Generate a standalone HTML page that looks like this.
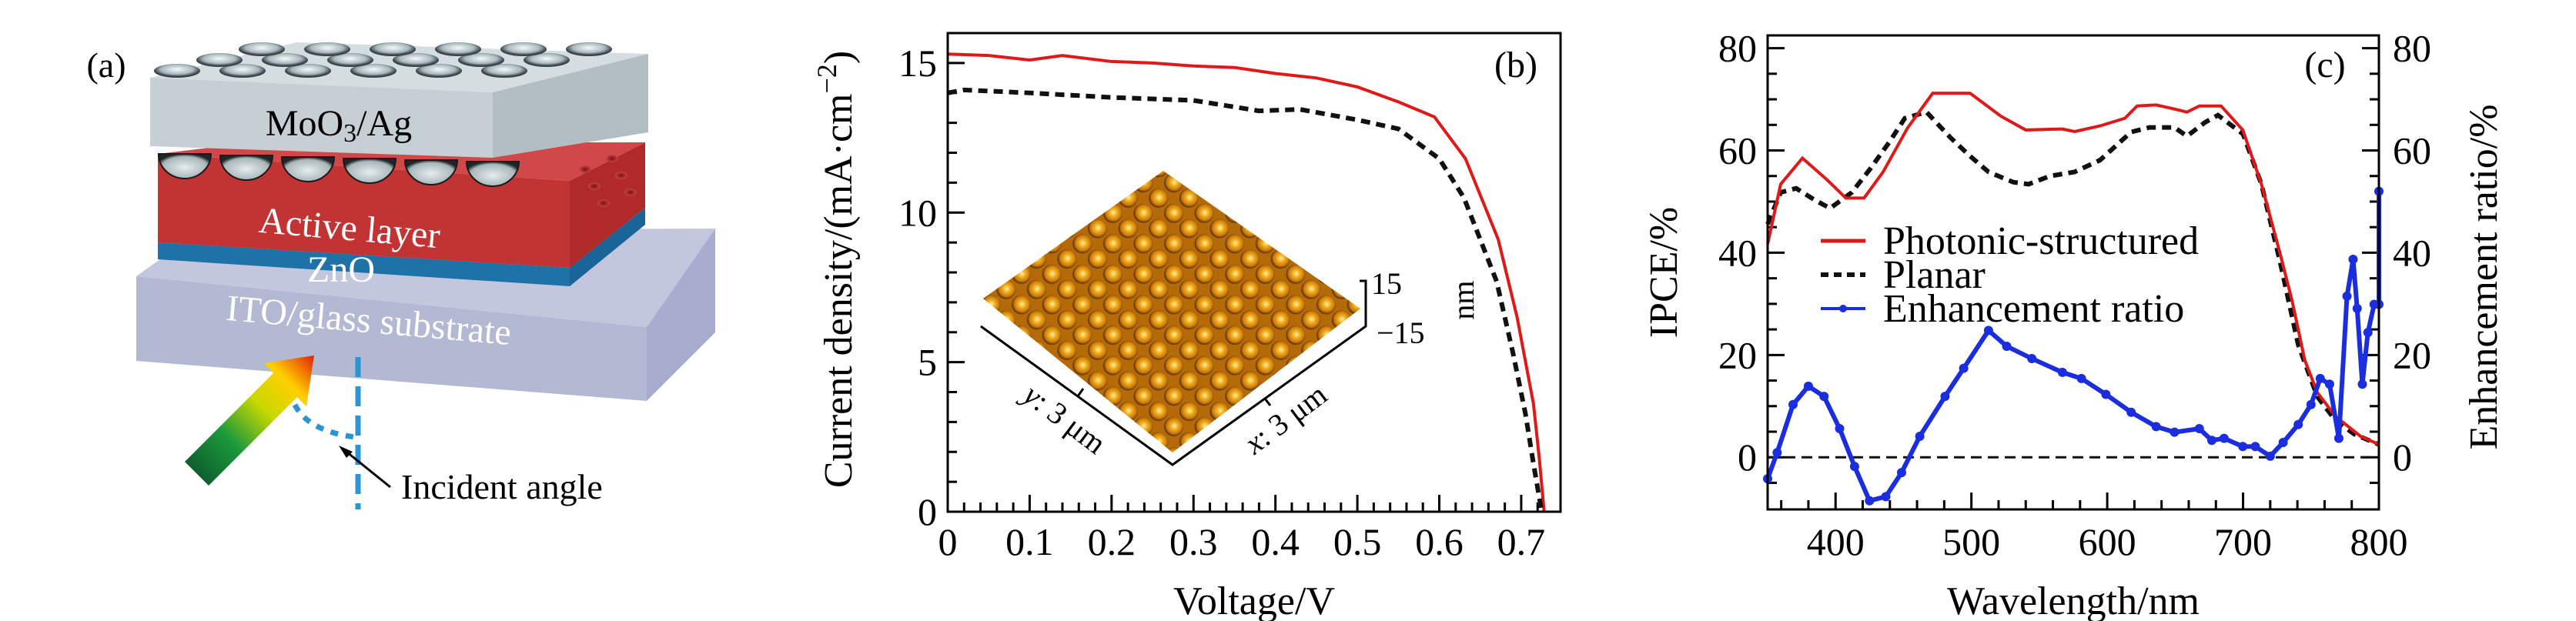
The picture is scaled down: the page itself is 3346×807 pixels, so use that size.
<!DOCTYPE html>
<html><head><meta charset="utf-8">
<style>
html,body{margin:0;padding:0;background:#fff;}
svg{display:block;font-family:"Liberation Serif",serif;}
</style></head>
<body>
<svg id="fig" width="3346" height="807" viewBox="0 0 3346 807" xmlns="http://www.w3.org/2000/svg">
<defs>
<linearGradient id="arrowGrad" x1="0" y1="1" x2="1" y2="0">
<stop offset="0" stop-color="#0a4a2a"/><stop offset="0.35" stop-color="#1a9a3a"/><stop offset="0.6" stop-color="#c8d800"/><stop offset="0.8" stop-color="#ffd000"/><stop offset="1" stop-color="#e02000"/>
</linearGradient>
<radialGradient id="dimple" cx="0.5" cy="0.4" r="0.5"><stop offset="0" stop-color="#f4fafb"/><stop offset="0.7" stop-color="#a9b8bd"/><stop offset="1" stop-color="#3a4448"/></radialGradient>
<radialGradient id="bump" cx="0.5" cy="0.55" r="0.55"><stop offset="0" stop-color="#e5eced"/><stop offset="0.8" stop-color="#a8b6ba"/><stop offset="1" stop-color="#202628"/></radialGradient>
<radialGradient id="redHole" cx="0.5" cy="0.5" r="0.5"><stop offset="0" stop-color="#7a1010"/><stop offset="1" stop-color="#c74444"/></radialGradient>
<radialGradient id="afmBump" cx="0.5" cy="0.45" r="0.5"><stop offset="0" stop-color="#fff2b0"/><stop offset="0.35" stop-color="#f5b322"/><stop offset="0.8" stop-color="#c9780a"/><stop offset="1" stop-color="#6a3a05"/></radialGradient>
<pattern id="afmPat" width="28" height="28" patternUnits="userSpaceOnUse" patternTransform="rotate(45)">
<rect width="28" height="28" fill="#b56a08"/>
<circle cx="14" cy="14" r="12.5" fill="url(#afmBump)"/>
</pattern>
<clipPath id="afmClip"><polygon points="1277,388 1511,222 1767,401 1523,588"/></clipPath>
</defs>

<!-- PANEL A -->
<g>
<text x="138" y="100" font-size="46" text-anchor="middle">(a)</text>
<polygon points="177,359 260,300 929,297 840,425" fill="#c3c7de"/>
<polygon points="177,359 840,425 840,521 177,469" fill="#b3b8d3"/>
<polygon points="840,425 929,297 929,432 840,521" fill="#a8add0"/>
<polygon points="205,315 740,348 740,372 205,337" fill="#1d72a8"/>
<polygon points="740,348 838,270 838,292 740,372" fill="#1a6598"/>
<polygon points="205,200 740,235 740,348 205,315" fill="#c23434"/>
<polygon points="740,235 838,185 838,270 740,348" fill="#b02a2a"/>
<polygon points="205,200 330,185 838,185 740,235" fill="#d04848"/>
<g id="redHoles"></g>
<polygon points="195,101 385,55 842,70 640,120" fill="#d4dde0"/>
<g id="dimples"></g>
<polygon points="195,101 640,120 640,205 195,190" fill="#c6d0d4"/>
<polygon points="640,120 842,70 842,172 640,205" fill="#b2bec3"/>
<g id="bumps"></g>
<text x="440" y="176" font-size="48" text-anchor="middle">MoO<tspan font-size="34" dy="8">3</tspan><tspan dy="-8">/Ag</tspan></text>
<text x="454" y="312" font-size="48" fill="#fff" text-anchor="middle" transform="rotate(5 454 297)">Active layer</text>
<text x="443" y="366" font-size="48" fill="#fff" text-anchor="middle">ZnO</text>
<text x="479" y="432" font-size="48" fill="#fff" text-anchor="middle" transform="rotate(5 479 417)">ITO/glass substrate</text>
<polygon points="240,600 355,485 343,472 408,462 398,528 386,516 271,631" fill="url(#arrowGrad)"/>
<line x1="465" y1="464" x2="465" y2="662" stroke="#2a94d4" stroke-width="7" stroke-dasharray="26,12"/>
<path d="M383,526 Q400,560 461,568" fill="none" stroke="#2a94d4" stroke-width="7" stroke-dasharray="10,10"/>
<line x1="445" y1="583" x2="507" y2="633" stroke="#000" stroke-width="3"/>
<polygon points="440,579 458,587 450,595" fill="#000"/>
<text x="521" y="648" font-size="46">Incident angle</text>
</g>

<!-- PANEL B -->
<g id="panelB">
<g id="bInset">
<rect x="1250" y="200" width="560" height="420" fill="url(#afmPat)" clip-path="url(#afmClip)"/>
<polyline points="1274,424 1523,604 1774,424 1774,365 1766,365" fill="none" stroke="#000" stroke-width="3"/>
<line x1="1400" y1="515" x2="1407" y2="505" stroke="#000" stroke-width="3"/>
<line x1="1643" y1="518" x2="1650" y2="527" stroke="#000" stroke-width="3"/>
<text x="1781" y="382" font-size="40">15</text>
<text x="1788" y="446" font-size="40">−15</text>
<text x="0" y="0" font-size="40" transform="translate(1914 390) rotate(-90)" text-anchor="middle">nm</text>
<text x="0" y="0" font-size="40" text-anchor="middle" transform="translate(1375 555) rotate(37)"><tspan font-style="italic">y</tspan>: 3 μm</text>
<text x="0" y="0" font-size="40" text-anchor="middle" transform="translate(1678 555) rotate(-37)"><tspan font-style="italic">x</tspan>: 3 μm</text>
</g>
</g>

<!-- PANEL C -->
<g id="panelC"></g>
</svg>

<script>
// ---------- Panel B data ----------
const bRedV = [0,0.05,0.1,0.14,0.2,0.25,0.3,0.35,0.4,0.45,0.5,0.55,0.594,0.632,0.672,0.695,0.715,0.722,0.728];
const bRedJ = [15.3,15.25,15.1,15.25,15.05,15.0,14.9,14.85,14.65,14.5,14.2,13.7,13.2,11.8,9.1,6.5,3.6,1.8,0];
const bBlkV = [0,0.02,0.1,0.2,0.3,0.38,0.43,0.5,0.55,0.6,0.63,0.67,0.69,0.705,0.715,0.725];
const bBlkJ = [14.0,14.1,14.0,13.85,13.75,13.4,13.45,13.1,12.8,11.8,10.5,7.7,5.3,3.3,1.6,0];
const bXTicks = [0,0.1,0.2,0.3,0.4,0.5,0.6,0.7];
const bXTickLabels = ["0","0.1","0.2","0.3","0.4","0.5","0.6","0.7"];
const bYTicks = [0,5,10,15];
const bYTickLabels = ["0","5","10","15"];

// ---------- Panel C data ----------
const cRedWl = [350,359.6,375.6,394,407.5,421,435,453,471.5,499,521.7,540,567,576,594.7,613,622,636,649.5,658.7,667.8,683.8,699.8,713.5,727,736,745.4,754.6,768,786.5,800];
const cRedIpce = [41.7,53.4,58.5,54.2,50.7,50.7,55.8,64.4,71.2,71.2,66.7,64,64.2,63.7,64.8,66.3,68.7,68.9,68.1,67.5,68.7,68.7,64,53.4,40.1,30.7,19,12.7,8,4.1,2.5];
const cBlkWl = [350,359.6,371,384.7,396,412,425.8,439.5,451,467,485,499,512.6,530.8,542,558,576,594.7,617.6,631,649.5,658.7,672,681.5,700,713.5,727,740.6,754.6,768,782,800];
const cBlkIpce = [45.6,51.8,52.6,50.3,48.7,51.8,56.5,61.6,66.3,67.5,62.4,58.9,55.8,53.8,53.4,55,55.8,58.1,63.6,64.5,64.5,62.8,65.5,66.9,63.2,53.4,38.5,22,11.9,7.2,4.5,2.5];
const cBlueWl = [350,357,368.7,380,391.5,403,414,425,437,448.6,462,480.6,494.3,512.6,526,544.5,567,581,599,617.6,636,649.5,667.8,677,686,699.8,709,720,729.5,740.6,750,756.8,763.7,770.5,776.5,781,784,787.8,791.9,796.5,800,800];
const cBlueRatio = [-4.2,0.9,10.3,13.9,11.9,5.6,-1.8,-8.5,-7.7,-3,4.1,11.9,17.4,24.8,21.7,19.3,16.6,15.4,12.3,8.8,6,4.9,5.6,3.3,3.7,2.1,2.1,0.2,2.9,6.4,10.3,15.4,14.3,3.7,31.5,38.7,29.1,14.3,24.4,29.9,29.9,52];
const cXTicks = [400,500,600,700,800];
const cXTickLabels = ["400","500","600","700","800"];
const cYTicks = [0,20,40,60,80];
const cYTickLabels = ["0","20","40","60","80"];
const cLegendLabels = ["Photonic-structured","Planar","Enhancement ratio"];

const NS = "http://www.w3.org/2000/svg";
function mk(tag, attrs, parent){const e=document.createElementNS(NS,tag);for(const k in attrs)e.setAttribute(k,attrs[k]);parent.appendChild(e);return e;}

(function(){
  const d=document.getElementById('dimples');
  for(let r=0;r<3;r++)for(let c=0;c<6;c++){
    const cx=230+c*85+r*55, cy=92-r*14;
    const e=mk('ellipse',{cx:cx,cy:cy,rx:30,ry:9,fill:'url(#dimple)'},d);
    
    
  }
  const b=document.getElementById('bumps');
  for(let i=0;i<6;i++){
    const cx=240+i*80, cy=200+i*2;
    const e=mk('path',{d:`M${cx-34},${cy} A34,32 0 0 0 ${cx+34},${cy} Z`,fill:'url(#bump)',stroke:'#1a1a1a','stroke-width':2},b);
    
    
  }
  const h=document.getElementById('redHoles');
  for(let r=0;r<3;r++)for(let c=0;c<2;c++){
    const e=mk('ellipse',{cx:760+c*35+r*12,cy:220+r*22-c*14,rx:8,ry:5,fill:'url(#redHole)'},h);
    
    
  }
})();

(function(){
  const g=document.getElementById('panelB');
  const L=1231,R=2027,T=43,B=665, xMax=0.748, yMax=16;
  const sx=v=>L+v/xMax*(R-L), sy=v=>B-v/yMax*(B-T);
  const ax=mk('g',{},g);
  
  
  for(let v=0;v<=0.74;v+=0.02){
    const major=Math.abs(v*10-Math.round(v*10))<1e-6;
    const t=mk('line',{x1:sx(v),x2:sx(v),y1:B,y2:B-(major?22:12),stroke:'#000','stroke-width':3},ax);
    
    
  }
  for(let v=0;v<=16;v+=1){
    const major=v%5===0;
    const t=mk('line',{x1:L,x2:L+(major?22:12),y1:sy(v),y2:sy(v),stroke:'#000','stroke-width':3},ax);
    
    
  }
  bXTicks.forEach((v,i)=>{
    const t=mk('text',{x:sx(v),y:721,'font-size':50,'text-anchor':'middle'},ax);t.textContent=bXTickLabels[i];
    
    
  });
  bYTicks.forEach((v,i)=>{
    const t=mk('text',{x:L-14,y:sy(v)+17,'font-size':50,'text-anchor':'end'},ax);t.textContent=bYTickLabels[i];
    
    
  });
  const xt=mk('text',{x:(L+R)/2,y:798,'font-size':52,'text-anchor':'middle'},ax);xt.textContent='Voltage/V';
  
  
  const yt=mk('text',{x:0,y:0,'font-size':52,'text-anchor':'middle',transform:'translate(1106 350) rotate(-90)'},ax);
  yt.innerHTML='Current density/(mA·cm<tspan font-size="36" dy="-20">−2</tspan><tspan dy="20">)</tspan>';
  
  
  const lab=mk('text',{x:1969,y:100,'font-size':48,'text-anchor':'middle'},ax);lab.textContent='(b)';
  
  
  const red=mk('polyline',{points:bRedV.map((v,i)=>sx(v)+','+sy(bRedJ[i])).join(' '),fill:'none',stroke:'#e01818','stroke-width':4},g);
  
  
  const blk=mk('polyline',{points:bBlkV.map((v,i)=>sx(v)+','+sy(bBlkJ[i])).join(' '),fill:'none',stroke:'#111','stroke-width':6,'stroke-dasharray':'12,8'},g);
  
  
  const fr=mk('rect',{x:L,y:T,width:R-L,height:B-T,fill:'none',stroke:'#000','stroke-width':3},g);
  
  
})();

(function(){
  const g=document.getElementById('panelC');
  const L=2296,R=3090,T=46,B=662, x0=350,x1=800, y0=-10.2,y1=82.5;
  const sx=v=>L+(v-x0)/(x1-x0)*(R-L), sy=v=>B-(v-y0)/(y1-y0)*(B-T);
  const ax=mk('g',{},g);
  
  
  for(let v=360;v<=800;v+=20){
    const major=v%100===0;
    const t=mk('line',{x1:sx(v),x2:sx(v),y1:B,y2:B-(major?22:12),stroke:'#000','stroke-width':3},ax);
    
    
  }
  for(let v=-5;v<=80;v+=5){
    const major=v%20===0;
    const l=major?22:12;
    const t=mk('line',{x1:L,x2:L+l,y1:sy(v),y2:sy(v),stroke:'#000','stroke-width':3},ax);
    
    
    const t2=mk('line',{x1:R,x2:R-l,y1:sy(v),y2:sy(v),stroke:'#000','stroke-width':3},ax);
    
    
  }
  cXTicks.forEach((v,i)=>{
    const t=mk('text',{x:sx(v),y:721,'font-size':50,'text-anchor':'middle'},ax);t.textContent=cXTickLabels[i];
    
    
  });
  cYTicks.forEach((v,i)=>{
    const t=mk('text',{x:L-14,y:sy(v)+17,'font-size':50,'text-anchor':'end'},ax);t.textContent=cYTickLabels[i];
    
    
    const t2=mk('text',{x:R+18,y:sy(v)+17,'font-size':50,'text-anchor':'start'},ax);t2.textContent=cYTickLabels[i];
    
    
  });
  const xt=mk('text',{x:(L+R)/2,y:798,'font-size':52,'text-anchor':'middle'},ax);xt.textContent='Wavelength/nm';
  
  
  const yl=mk('text',{x:0,y:0,'font-size':52,'text-anchor':'middle',transform:'translate(2178 354) rotate(-90)'},ax);yl.textContent='IPCE/%';
  
  
  const yr=mk('text',{x:0,y:0,'font-size':52,'text-anchor':'middle',transform:'translate(3243 360) rotate(-90)'},ax);yr.textContent='Enhancement ratio/%';
  
  
  const lab=mk('text',{x:3020,y:100,'font-size':48,'text-anchor':'middle'},ax);lab.textContent='(c)';
  
  
  const zl=mk('line',{x1:L,x2:R,y1:sy(0),y2:sy(0),stroke:'#111','stroke-width':3,'stroke-dasharray':'14,8'},g);
  
  
  const blk=mk('polyline',{points:cBlkWl.map((v,i)=>sx(v)+','+sy(cBlkIpce[i])).join(' '),fill:'none',stroke:'#111','stroke-width':6,'stroke-dasharray':'12,8'},g);
  
  
  const red=mk('polyline',{points:cRedWl.map((v,i)=>sx(v)+','+sy(cRedIpce[i])).join(' '),fill:'none',stroke:'#e01818','stroke-width':4},g);
  
  
  const blue=mk('polyline',{points:cBlueWl.map((v,i)=>sx(v)+','+sy(cBlueRatio[i])).join(' '),fill:'none',stroke:'#1a2ee0','stroke-width':6},g);
  
  
  const pts=mk('g',{fill:'#1a2ee0'},g);
  
  
  cBlueWl.forEach((v,i)=>{
    const c=mk('circle',{cx:sx(v),cy:sy(cBlueRatio[i]),r:6},pts);
    
    
  });
  const lg=mk('g',{},g);
  
  
  const ly=[313,357,401];
  const styles=[{stroke:'#e01818','stroke-width':5},{stroke:'#111','stroke-width':6,'stroke-dasharray':'10,7'},{stroke:'#1a2ee0','stroke-width':4}];
  cLegendLabels.forEach((s,i)=>{
    const e=mk('g',{},lg);
    
    
    const a=Object.assign({x1:2365,x2:2423,y1:ly[i],y2:ly[i]},styles[i]);
    mk('line',a,e);
    if(i===2) mk('circle',{cx:2394,cy:ly[i],r:5,fill:'#1a2ee0'},e);
    const t=mk('text',{x:2446,y:ly[i]+17,'font-size':52},e);t.textContent=s;
  });
  const fr=mk('rect',{x:L,y:T,width:R-L,height:B-T,fill:'none',stroke:'#000','stroke-width':3},g);
  
  
})();
</script>
</body></html>
